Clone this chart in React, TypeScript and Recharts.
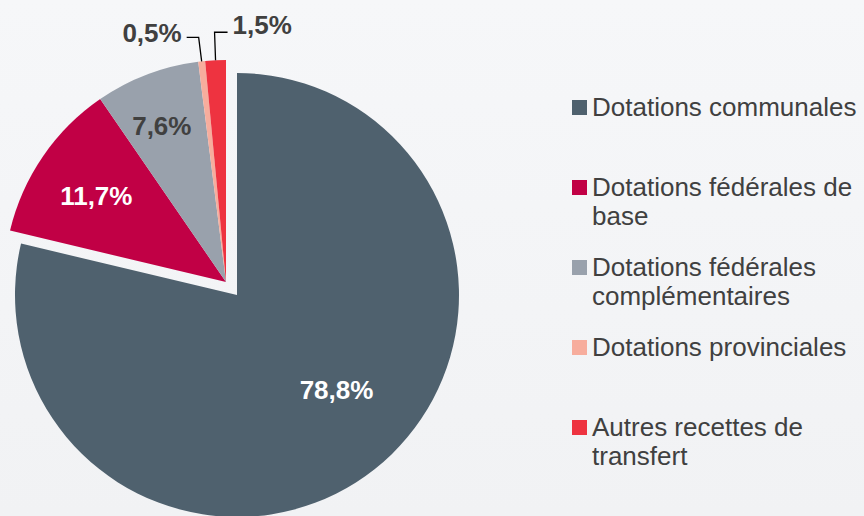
import React from "react";
import { PieChart, Pie, Cell, Legend } from "recharts";

const categories = [
  "Dotations communales",
  "Dotations fédérales de base",
  "Dotations fédérales complémentaires",
  "Dotations provinciales",
  "Autres recettes de transfert",
];
const values = [78.8, 11.7, 7.6, 0.5, 1.5];
const labels = ["78,8%", "11,7%", "7,6%", "0,5%", "1,5%"];
const colors = ["#4f616e", "#c10045", "#99a1ac", "#f7ad9d", "#ee3340"];
const labelColors = ["#ffffff", "#ffffff", "#404040", "#404040", "#404040"];
const labelRatio = [0.62, 0.7, 0.76, 1, 1];
const labelAngleShift = [8, 1, 1.5, 0, 0];

const data = categories.map((name, i) => ({ name, value: values[i] }));

const FONT = '"Liberation Sans", Arial, sans-serif';
const RAD = Math.PI / 180;

const makeLabel = (shown: number[]) => (props: any) => {
  const { cx, cy, midAngle, outerRadius, index } = props;
  if (!shown.includes(index)) return <g key={`l${index}`} />;
  if (index >= 3) {
    const px = cx + outerRadius * Math.cos(-midAngle * RAD);
    const py = cy + outerRadius * Math.sin(-midAngle * RAD);
    const leftSide = index === 3;
    const ey = leftSide ? py - 24 : py - 28;
    const ex = leftSide ? px - 3 : px - 1;
    const hx = leftSide ? ex - 12 : ex + 13;
    return (
      <g key={`l${index}`}>
        <polyline
          points={`${px},${py} ${ex},${ey} ${hx},${ey}`}
          fill="none"
          stroke="#000000"
          strokeWidth={1.3}
        />
        <text
          x={leftSide ? hx - 5 : hx + 5}
          y={ey - (leftSide ? 4 : 7)}
          textAnchor={leftSide ? "end" : "start"}
          dominantBaseline="central"
          fill={labelColors[index]}
          fontFamily={FONT}
          fontWeight="bold"
          fontSize={26}
        >
          {labels[index]}
        </text>
      </g>
    );
  }
  const r = outerRadius * labelRatio[index];
  const a = midAngle + labelAngleShift[index];
  const x = cx + r * Math.cos(-a * RAD);
  const y = cy + r * Math.sin(-a * RAD);
  return (
    <text
      key={`l${index}`}
      x={x}
      y={y}
      textAnchor="middle"
      dominantBaseline="central"
      fill={labelColors[index]}
      fontFamily={FONT}
      fontWeight="bold"
      fontSize={26}
    >
      {labels[index]}
    </text>
  );
};

const LegendContent = () => (
  <div style={{ fontFamily: FONT, fontSize: 26, lineHeight: "29px", color: "#404040" }}>
    {categories.map((c, i) => (
      <div key={c} style={{ display: "flex", alignItems: "flex-start", height: 80 }}>
        <div
          style={{
            width: 15,
            height: 15,
            background: colors[i],
            marginTop: 7,
            marginRight: 5,
            flexShrink: 0,
          }}
        />
        <div style={{ width: 270 }}>{c}</div>
      </div>
    ))}
  </div>
);

export default function App() {
  return (
    <div
      style={{
        position: "absolute",
        left: 0,
        top: 0,
        width: 864,
        height: 516,
        background: "linear-gradient(#f6f7f9, #f1f2f4)",
        overflow: "hidden",
      }}
    >
      <PieChart width={864} height={516} margin={{ top: 0, right: 0, bottom: 0, left: 0 }}>
        <Pie
          data={data}
          dataKey="value"
          nameKey="name"
          cx={237}
          cy={295}
          outerRadius={222}
          startAngle={90}
          endAngle={-270}
          stroke="none"
          isAnimationActive={false}
          labelLine={false}
          label={makeLabel([0])}
          legendType="none"
        >
          {data.map((d, i) => (
            <Cell key={d.name} fill={i === 0 ? colors[i] : "none"} />
          ))}
        </Pie>
        <Pie
          data={data}
          dataKey="value"
          nameKey="name"
          cx={226}
          cy={282}
          outerRadius={222}
          startAngle={90}
          endAngle={-270}
          stroke="none"
          isAnimationActive={false}
          labelLine={false}
          label={makeLabel([1, 2, 3, 4])}
          legendType="none"
        >
          {data.map((d, i) => (
            <Cell key={d.name} fill={i === 0 ? "none" : colors[i]} />
          ))}
        </Pie>
        <Legend
          content={<LegendContent />}
          wrapperStyle={{ left: 572, top: 93, width: 292, bottom: "auto", right: "auto" }}
        />
      </PieChart>
    </div>
  );
}
